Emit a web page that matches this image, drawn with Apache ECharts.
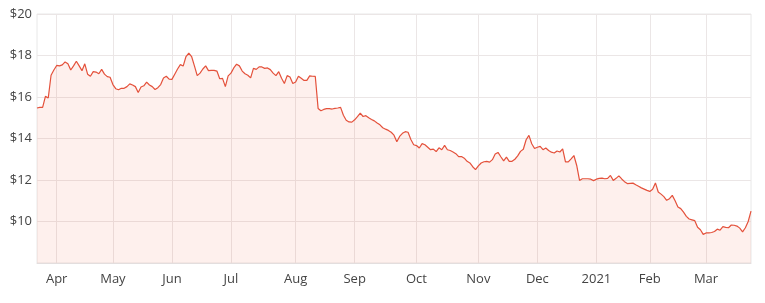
<!DOCTYPE html>
<html>
<head>
<meta charset="utf-8">
<script src="https://cdn.jsdelivr.net/npm/echarts@6/dist/echarts.min.js"></script>
<style>html,body{margin:0;padding:0;background:#fff}#c{width:765px;height:303px}</style>
</head>
<body>
<div id="c"></div>
<script>
// ASX trading days, 23 Mar 2020 – 23 Mar 2021
const startDate = '2020-03-23';
const endDate = '2021-03-23';
const holidays = ['2020-04-10','2020-04-13','2020-06-08','2020-12-25','2020-12-28','2021-01-01','2021-01-26'];
const monthNames = ['Jan','Feb','Mar','Apr','May','Jun','Jul','Aug','Sep','Oct','Nov','Dec'];
const yTicks = [8, 10, 12, 14, 16, 18, 20];

// closing prices (one per trading day)
const prices = [
15.47,15.5,15.5,16.03,15.95,17.05,17.3,17.52,17.5,17.55,
17.69,17.6,17.3,17.5,17.72,17.5,17.27,17.6,17.1,17.0,
17.22,17.2,17.12,17.33,17.1,16.98,16.95,16.6,16.4,16.35,
16.42,16.42,16.5,16.63,16.58,16.5,16.22,16.48,16.54,16.72,
16.58,16.5,16.36,16.45,16.6,16.92,17.0,16.86,16.85,17.1,
17.35,17.56,17.49,17.95,18.12,17.95,17.5,17.03,17.15,17.35,
17.5,17.27,17.28,17.28,17.25,16.88,16.9,16.5,17.02,17.15,
17.4,17.58,17.5,17.25,17.12,17.05,16.92,17.38,17.33,17.45,
17.45,17.38,17.4,17.32,17.15,17.03,17.22,16.9,16.65,17.03,
16.96,16.65,16.72,17.0,16.9,16.8,16.8,17.02,17.0,16.99,
15.45,15.34,15.4,15.44,15.44,15.42,15.45,15.47,15.5,15.12,
14.88,14.8,14.79,14.9,15.05,15.22,15.06,15.1,15.0,14.92,
14.85,14.75,14.66,14.52,14.45,14.39,14.3,14.16,13.84,14.1,
14.25,14.33,14.3,13.95,13.7,13.66,13.54,13.75,13.7,13.58,
13.46,13.49,13.37,13.55,13.46,13.67,13.46,13.42,13.35,13.27,
13.13,13.13,13.05,12.9,12.82,12.64,12.5,12.68,12.82,12.88,
12.9,12.86,12.98,13.25,13.33,13.12,12.92,13.1,12.9,12.9,
13.0,13.16,13.38,13.48,13.94,14.15,13.75,13.52,13.58,13.62,
13.46,13.54,13.42,13.34,13.3,13.4,13.35,13.5,12.87,12.87,
13.02,13.18,12.7,11.98,12.06,12.06,12.06,12.04,11.97,12.04,
12.08,12.09,12.06,12.08,12.22,11.98,12.08,12.2,12.05,11.92,
11.83,11.84,11.85,11.77,11.7,11.62,11.56,11.5,11.45,11.55,
11.86,11.42,11.32,11.2,11.02,11.1,11.26,11.0,10.7,10.62,
10.45,10.25,10.12,10.08,10.04,9.72,9.6,9.38,9.45,9.45,
9.47,9.52,9.63,9.58,9.75,9.72,9.7,9.83,9.82,9.78,
9.68,9.5,9.7,10.0,10.5
];

// build trading-day categories (weekdays minus ASX holidays)
const dates = [];
{
  const s = new Date(startDate + 'T00:00:00Z').getTime();
  const e = new Date(endDate + 'T00:00:00Z').getTime();
  for (let t = s; t <= e; t += 86400000) {
    const dt = new Date(t);
    const wd = dt.getUTCDay();
    const key = dt.toISOString().slice(0, 10);
    if (wd !== 0 && wd !== 6 && holidays.indexOf(key) < 0) dates.push(key);
  }
}

function isMonthStart(idx) {
  return idx > 0 && dates[idx].slice(0, 7) !== dates[idx - 1].slice(0, 7);
}
function monthLabel(val) {
  const m = parseInt(val.slice(5, 7), 10);
  return m === 1 ? val.slice(0, 4) : monthNames[m - 1];
}

const FONT = "'Open Sans', 'Noto Sans', sans-serif";
const chart = echarts.init(document.getElementById('c'), null, {renderer: 'canvas'});
chart.setOption({
  animation: false,
  backgroundColor: '#ffffff',
  grid: {left: 37, right: 14, top: 14, bottom: 40, show: true, borderColor: '#e8e8e8', borderWidth: 1},
  xAxis: {
    type: 'category',
    data: dates,
    boundaryGap: false,
    axisLine: {show: true, lineStyle: {color: '#e3dede', width: 1}},
    axisTick: {show: false},
    axisLabel: {
      interval: (idx) => isMonthStart(idx),
      formatter: (val) => monthLabel(val),
      color: '#444', fontSize: 13, fontFamily: FONT, margin: 10
    },
    splitLine: {show: true, interval: (idx) => isMonthStart(idx), lineStyle: {color: '#ebe6e6', width: 1}}
  },
  yAxis: {
    type: 'value',
    min: yTicks[0], max: yTicks[yTicks.length - 1], interval: 2,
    axisLine: {show: false},
    axisTick: {show: false},
    axisLabel: {
      formatter: (v) => v === yTicks[0] ? '' : '$' + v,
      color: '#444', fontSize: 13, fontFamily: FONT, margin: 5
    },
    splitLine: {show: true, lineStyle: {color: '#ebe6e6', width: 1}}
  },
  series: [{
    type: 'line',
    data: prices,
    showSymbol: false,
    symbol: 'none',
    lineStyle: {color: '#e4513b', width: 1.2},
    areaStyle: {color: 'rgba(244, 87, 60, 0.13)'}
  }]
});
</script>
</body>
</html>
